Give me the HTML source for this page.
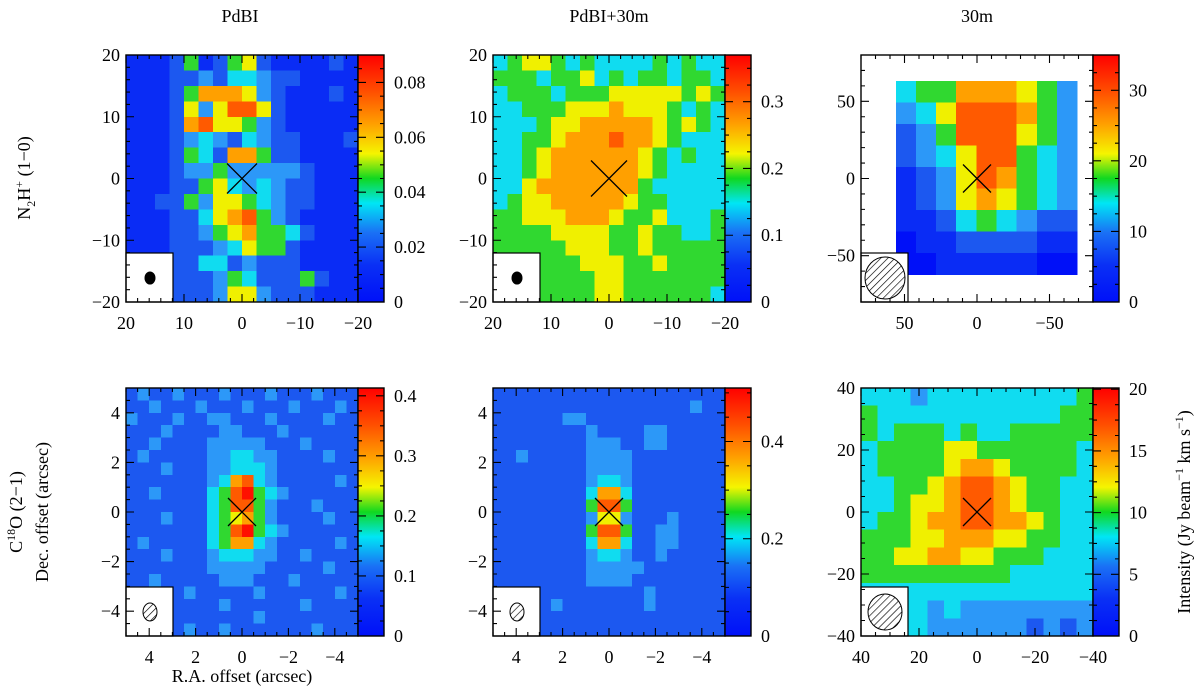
<!DOCTYPE html>
<html><head><meta charset="utf-8">
<style>
html,body{margin:0;padding:0;background:#fff;}
svg{display:block;font-family:"Liberation Serif",serif;}
</style></head>
<body>
<svg id="fig" width="1200" height="692" viewBox="0 0 1200 692" xmlns="http://www.w3.org/2000/svg">
<defs>
<pattern id="hatch" patternUnits="userSpaceOnUse" width="5" height="5" patternTransform="rotate(45)">
<rect width="5" height="5" fill="#fff"/><line x1="0" y1="0" x2="0" y2="5" stroke="#000" stroke-width="1.3"/>
</pattern>
<linearGradient id="cmap" x1="0" y1="1" x2="0" y2="0">
<stop offset="0" stop-color="#0010f8"/><stop offset="0.15" stop-color="#0a30f5"/>
<stop offset="0.28" stop-color="#1a70f5"/><stop offset="0.4" stop-color="#00e6f5"/>
<stop offset="0.5" stop-color="#10d820"/><stop offset="0.6" stop-color="#f5f500"/>
<stop offset="0.72" stop-color="#ffa000"/><stop offset="0.85" stop-color="#ff5000"/>
<stop offset="1" stop-color="#ff0000"/>
</linearGradient>
</defs>
<text x="240" y="22" font-size="18" text-anchor="middle">PdBI</text>
<text x="609" y="22" font-size="18" text-anchor="middle">PdBI+30m</text>
<text x="977" y="22" font-size="18" text-anchor="middle">30m</text>
<text transform="translate(30,178) rotate(-90)" font-size="18" text-anchor="middle">N<tspan font-size="12" dy="5">2</tspan><tspan dy="-5">H</tspan><tspan font-size="12" dy="-7">+</tspan><tspan dy="7"> (1−0)</tspan></text>
<text transform="translate(22,512) rotate(-90)" font-size="18" text-anchor="middle">C<tspan font-size="12" dy="-7">18</tspan><tspan dy="7">O (2−1)</tspan></text>
<text transform="translate(48,512) rotate(-90)" font-size="18" text-anchor="middle">Dec. offset (arcsec)</text>
<text x="242" y="682" font-size="18" text-anchor="middle">R.A. offset (arcsec)</text>
<text transform="translate(1190,512) rotate(-90)" font-size="18" text-anchor="middle">Intensity (Jy beam<tspan font-size="12" dy="-7">−1</tspan><tspan dy="7"> km s</tspan><tspan font-size="12" dy="-7">−1</tspan><tspan dy="7">)</tspan></text>
</svg>
<script>
const palette = ['#0010f8','#0a2cf5','#1c58f0','#2c98f8','#10dcf0','#30d830','#f0f000','#ffa000','#ff5a00','#ff1000'];
const p1Rows = ["1112512562111121","1112232443221111","1112577763211121","1112636886211111","1112786653211111","1112343243221112","1112542775221111","1112335333332111","1112256434322111","1122536654322111","1112246785321111","1112235675542111","1112223465521111","1112244232221111","1112223542225211","1122223663222111"];
const p2Rows = ["4566545444454544","5554556454554554","4555455566666565","4455566676665454","4445667777765654","4455677787765444","4456777777654544","4456777777654444","4467777777544444","4566777776554444","5566677765564445","5555666655655445","5555566655655555","5555556665565555","5555555665555555","5555555665555554"];
const p3Rows = ["455777653","346888753","235888653","234688543","123687543","123676543","112454322","011222211","001111100"];
const p4Rows = ["23223222322232223222","22322232223222322232","32223223322232222322","22232222332223222222","22322223333322232222","23222223344332222322","22232223344432222222","22222223478432222232","22322224589543222222","22222224588532223222","22232224567532222322","22222224589543222222","23222224577432222232","22232223444332232222","22222223333322222322","22322222333222322222","22222322222322222232","23222222322222232222","22232222222322222222","22222322322222223222"];
const p5Rows = ["22222222222222222222","22222222222222222322","22222233222222222222","22222222322223322222","22222222333223322222","22322222333322222222","22222222333322222222","22222222344322222222","22222222477422222222","22222222588522222222","22222222366322232222","22222222588522332222","22222222477422332222","22222222344322322222","22222222333332222222","22222222333322222222","22222222222223222222","22222322222223222222","22222222222222222222","22222222222222222222"];
const p6Rows = ["44434444444445","54444444444455","54555454455555","45555665555554","45555677655554","44556788765544","44566788765544","45567788776544","55566777665544","55667766555444","55555555544444","44444444444444","44443433333333","44443333332323"];
const p1Ticks = [20,10,0,-10,-20];
const p3Ticks = [50,0,-50];
const p4Ticks = [4,2,0,-2,-4];
const p6Ticks = [40,20,0,-20,-40];
const cb1Ticks = [0,0.02,0.04,0.06,0.08];
const cb2Ticks = [0,0.1,0.2,0.3];
const cb3Ticks = [0,10,20,30];
const cb4Ticks = [0,0.1,0.2,0.3,0.4];
const cb5Ticks = [0,0.2,0.4];
const cb6Ticks = [0,5,10,15,20];

const NS='http://www.w3.org/2000/svg';
const svg=document.getElementById('fig');
function mk(tag,attrs,parent){const e=document.createElementNS(NS,tag);for(const k in attrs)e.setAttribute(k,attrs[k]);(parent||svg).appendChild(e);return e;}

function panel(c){
  const g=mk('g',{});
  
  
  const sx=v=>c.x0+(v-c.xL)/(c.xR-c.xL)*c.w;
  const sy=v=>c.y0+(c.yT-v)/(c.yT-c.yB)*c.h;
  const ext=c.ext||[c.xL,c.xR,c.yT,c.yB];
  const R=c.rows.length, C=c.rows[0].length;
  const dx=(ext[1]-ext[0])/C, dy=(ext[2]-ext[3])/R;
  for(let i=0;i<R;i++)for(let j=0;j<C;j++){
    const d=+c.rows[i][j];
    const xa=sx(ext[0]+j*dx), xb=sx(ext[0]+(j+1)*dx), ya=sy(ext[2]-i*dy), yb=sy(ext[2]-(i+1)*dy);
    const r=mk('rect',{x:Math.min(xa,xb),y:ya,width:Math.abs(xb-xa)+0.6,height:yb-ya+0.6,fill:palette[d],'shape-rendering':'crispEdges'},g);
    
    
  }
  const s=c.cross;
  mk('path',{d:`M${sx(0)-s},${sy(0)-s}L${sx(0)+s},${sy(0)+s}M${sx(0)-s},${sy(0)+s}L${sx(0)+s},${sy(0)-s}`,stroke:'#000','stroke-width':1.3,fill:'none'},g);
  const bw=47,bh=49;
  const ib=mk('rect',{x:c.x0,y:c.y0+c.h-bh,width:bw,height:bh,fill:'#fff',stroke:'#000','stroke-width':1.2},g);
  
  
  mk('ellipse',{cx:c.x0+24,cy:c.y0+c.h-24,rx:c.beam[0],ry:c.beam[1],fill:c.hatch?'url(#hatch)':'#000',stroke:'#000','stroke-width':1},g);
  mk('rect',{x:c.x0,y:c.y0,width:c.w,height:c.h,fill:'none',stroke:'#000','stroke-width':1.4},g);
  let p='';
  const lo=Math.min(c.xL,c.xR),hi=Math.max(c.xL,c.xR);
  for(let v=Math.ceil(lo/c.minor)*c.minor;v<=hi+1e-9;v+=c.minor){
    const isMaj=Math.abs(v/c.major-Math.round(v/c.major))<1e-6, L=isMaj?8:4, X=sx(v);
    p+=`M${X},${c.y0+c.h}v${-L}M${X},${c.y0}v${L}`;
  }
  const lo2=Math.min(c.yB,c.yT),hi2=Math.max(c.yB,c.yT);
  for(let v=Math.ceil(lo2/c.minor)*c.minor;v<=hi2+1e-9;v+=c.minor){
    const isMaj=Math.abs(v/c.major-Math.round(v/c.major))<1e-6, L=isMaj?8:4, Y=sy(v);
    p+=`M${c.x0},${Y}h${L}M${c.x0+c.w},${Y}h${-L}`;
  }
  mk('path',{d:p,stroke:'#000','stroke-width':1.1,fill:'none'},g);
  c.xt.forEach(v=>{const t=mk('text',{x:sx(v),y:c.y0+c.h+27,'font-size':18,'text-anchor':'middle'},g);t.textContent=String(v).replace('-','−');
    
    });
  c.yt.forEach(v=>{const t=mk('text',{x:c.x0-6,y:sy(v)+6,'font-size':18,'text-anchor':'end'},g);t.textContent=String(v).replace('-','−');
    
    });
  const cx=c.x0+c.w, cw=26;
  const cb=mk('rect',{x:cx,y:c.y0,width:cw,height:c.h,fill:'url(#cmap)',stroke:'#000','stroke-width':1.4},g);
  
  
  const cy=v=>c.y0+c.h-v/c.vmax*c.h;
  let q='';
  for(let k=0;k*c.cbMinor<=c.vmax+1e-9;k++){const v=k*c.cbMinor,Y=cy(v);const maj=Math.abs(v/c.cbTicks[1]-Math.round(v/c.cbTicks[1]))<1e-6;const L=maj?8:4;q+=`M${cx},${Y}h${L}M${cx+cw},${Y}h${-L}`;}
  mk('path',{d:q,stroke:'#000','stroke-width':1.1},g);
  c.cbTicks.forEach(v=>{const t=mk('text',{x:cx+cw+10,y:cy(v)+6,'font-size':18},g);t.textContent=String(v);
    
    });
}

const W=232,H1=247,H2=248;
panel({name:'panel-n2h-pdbi',x0:126,y0:55,w:W,h:H1,xL:20,xR:-20,yT:20,yB:-20,rows:p1Rows,xt:p1Ticks,yt:p1Ticks,major:10,minor:2,cross:15,beam:[5,6],vmax:0.09,cbTicks:cb1Ticks,cbMinor:0.005});
panel({name:'panel-n2h-pdbi-30m',x0:493,y0:55,w:W,h:H1,xL:20,xR:-20,yT:20,yB:-20,rows:p2Rows,xt:p1Ticks,yt:p1Ticks,major:10,minor:2,cross:18,beam:[5,6],vmax:0.37,cbTicks:cb2Ticks,cbMinor:0.025});
panel({name:'panel-n2h-30m',x0:861,y0:55,w:W,h:H1,xL:80,xR:-80,yT:80,yB:-80,ext:[56,-69,63,-62],rows:p3Rows,xt:p3Ticks,yt:p3Ticks,major:50,minor:10,cross:14,beam:[20,21],hatch:true,vmax:35,cbTicks:cb3Ticks,cbMinor:2.5});
panel({name:'panel-c18o-pdbi',x0:126,y0:388,w:W,h:H2,xL:5,xR:-5,yT:5,yB:-5,rows:p4Rows,xt:p4Ticks,yt:p4Ticks,major:2,minor:0.5,cross:14,beam:[7,9],hatch:true,vmax:0.413,cbTicks:cb4Ticks,cbMinor:0.025});
panel({name:'panel-c18o-pdbi-30m',x0:493,y0:388,w:W,h:H2,xL:5,xR:-5,yT:5,yB:-5,rows:p5Rows,xt:p4Ticks,yt:p4Ticks,major:2,minor:0.5,cross:14,beam:[7,9],hatch:true,vmax:0.51,cbTicks:cb5Ticks,cbMinor:0.05});
panel({name:'panel-c18o-30m',x0:861,y0:388,w:W,h:H2,xL:40,xR:-40,yT:40,yB:-40,rows:p6Rows,xt:p6Ticks,yt:p6Ticks,major:20,minor:5,cross:14,beam:[17,18],hatch:true,vmax:20.1,cbTicks:cb6Ticks,cbMinor:1.25});
</script>
</body></html>
